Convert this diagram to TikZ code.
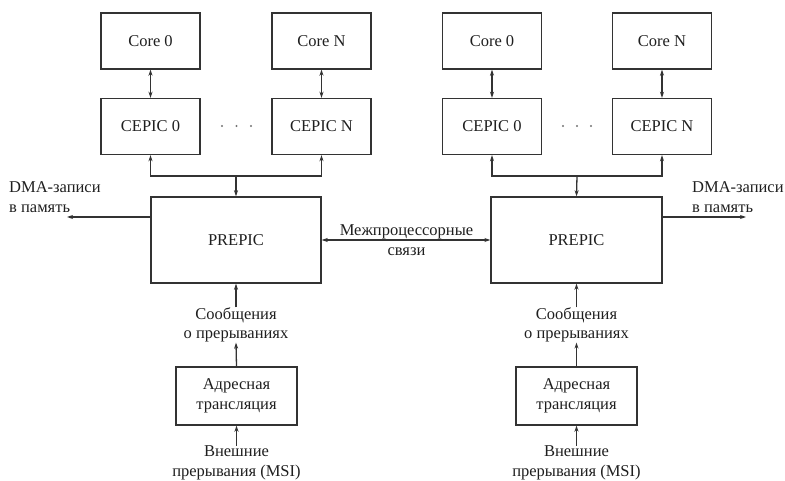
\documentclass[tikz,border=0pt]{standalone}
\usepackage{fontspec}
\setmainfont{Liberation Serif}
\usetikzlibrary{arrows.meta}
\definecolor{ln}{gray}{0.2}
\begin{document}
\begin{tikzpicture}[x=1pt,y=-1pt,
  every node/.style={font=\fontsize{16.5}{19.5}\selectfont, text=black!88, inner sep=0pt},
  box/.style={draw=ln, line width=1.4pt, rectangle},
  corebox/.style={box, minimum width=99pt, minimum height=56pt},
  prebox/.style={box, minimum width=170pt, minimum height=86pt},
  adrbox/.style={box, minimum width=121pt, minimum height=58pt, align=center},
  lbl/.style={align=center},
  conn/.style={draw=ln, line width=1.3pt, -{Stealth[length=6pt,width=4pt]}},
  dconn/.style={draw=ln, line width=1.3pt, {Stealth[length=6pt,width=4pt]}-{Stealth[length=6pt,width=4pt]}},
  dot/.style={circle, fill=black!55, minimum size=2.2pt}
]
\useasboundingbox (0,0) rectangle (785,481);

% ---------- left processor ----------
\node[corebox] (c0L) at (150.5,41) {Core 0};
\node[corebox] (cNL) at (321.5,41) {Core N};
\node[corebox] (e0L) at (150.5,126.5) {CEPIC 0};
\node[corebox] (eNL) at (321.5,126.5) {CEPIC N};
\node[dot] (d1L) at (222,126) {};
\node[dot] (d2L) at (236.5,126) {};
\node[dot] (d3L) at (251,126) {};
\node[prebox] (pL) at (236,240) {PREPIC};
\coordinate (busL) at (236,176);
\node[lbl] (mL) at (236,325) {Сообщения\\о прерываниях};
\node[adrbox] (aL) at (236.5,396) {Адресная\\трансляция};
\node[lbl] (xL) at (236.5,463) {Внешние\\прерывания (MSI)};
\coordinate (dmaL) at (67,217);
\node[align=left, anchor=west] (tL) at (9,197) {DMA-записи\\в память};

\draw[dconn] (c0L) -- (e0L);
\draw[dconn] (cNL) -- (eNL);
\draw[conn] (busL) -| (e0L.south);
\draw[conn] (busL) -| (eNL.south);
\draw[conn] (busL) -- (pL.north);
\draw[conn] (mL.north) -- (pL.south);
\draw[conn] (aL.north) -- (mL.south);
\draw[conn] (xL.north) -- (aL.south);
\draw[conn] (pL.west |- dmaL) -- (dmaL);

% ---------- right processor ----------
\node[corebox] (c0R) at (492,41) {Core 0};
\node[corebox] (cNR) at (662,41) {Core N};
\node[corebox] (e0R) at (492,126.5) {CEPIC 0};
\node[corebox] (eNR) at (662,126.5) {CEPIC N};
\node[dot] (d1R) at (563,126) {};
\node[dot] (d2R) at (577,126) {};
\node[dot] (d3R) at (591,126) {};
\node[prebox, minimum width=171pt] (pR) at (576.5,240) {PREPIC};
\coordinate (busR) at (577,176);
\node[lbl] (mR) at (576.5,325) {Сообщения\\о прерываниях};
\node[adrbox] (aR) at (576.5,396) {Адресная\\трансляция};
\node[lbl] (xR) at (576.5,463) {Внешние\\прерывания (MSI)};
\coordinate (dmaR) at (746,217);
\node[align=left, anchor=west] (tR) at (692,197) {DMA-записи\\в память};

\draw[dconn] (c0R) -- (e0R);
\draw[dconn] (cNR) -- (eNR);
\draw[conn] (busR) -| (e0R.south);
\draw[conn] (busR) -| (eNR.south);
\draw[conn] (busR) -- (pR.north);
\draw[conn] (mR.north) -- (pR.south);
\draw[conn] (aR.north) -- (mR.south);
\draw[conn] (xR.north) -- (aR.south);
\draw[conn] (pR.east |- dmaR) -- (dmaR);

% ---------- interprocessor link ----------
\draw[dconn] (pL.east) -- (pR.west);
\node[lbl] (ip) at (406.5,240) {Межпроцессорные\\связи};
\end{tikzpicture}
\end{document}
